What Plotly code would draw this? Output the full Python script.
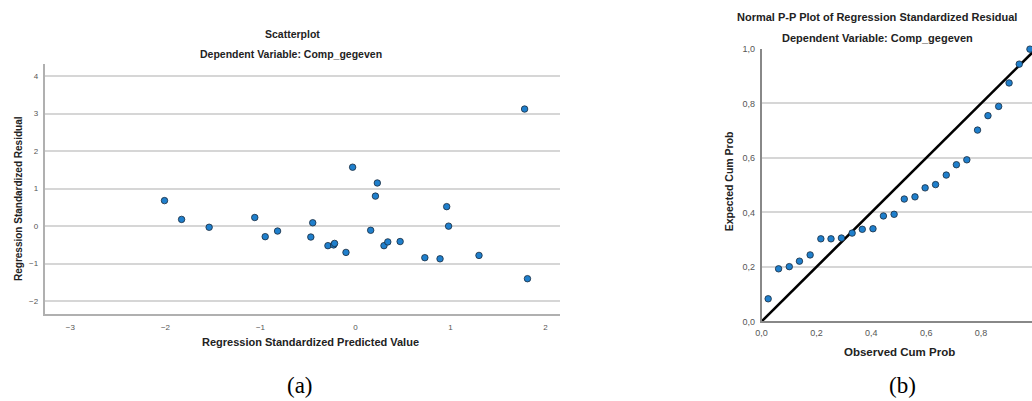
import plotly.graph_objects as go

# Scatterplot: standardized predicted value vs standardized residual
pred_std = [-2.01, -1.83, -1.54, -1.06, -0.95, -0.82, -0.47, -0.45, -0.29, -0.23,
            -0.22, -0.10, -0.03, 0.16, 0.21, 0.23, 0.30, 0.34, 0.47, 0.73,
            0.89, 0.96, 0.98, 1.30, 1.78, 1.81]
resid_std = [0.68, 0.18, -0.03, 0.23, -0.28, -0.13, -0.29, 0.09, -0.52, -0.50,
             -0.46, -0.70, 1.57, -0.11, 0.80, 1.15, -0.52, -0.42, -0.41, -0.84,
             -0.87, 0.52, 0.00, -0.78, 3.12, -1.40]

# Normal P-P plot: observed vs expected cumulative probability
obs_cum = [0.024, 0.062, 0.101, 0.138, 0.177, 0.216, 0.253, 0.291, 0.330, 0.367,
           0.406, 0.444, 0.483, 0.520, 0.559, 0.596, 0.634, 0.673, 0.710, 0.748,
           0.787, 0.825, 0.864, 0.902, 0.939, 0.978]
exp_cum = [0.083, 0.193, 0.201, 0.221, 0.244, 0.303, 0.303, 0.306, 0.324, 0.338,
           0.340, 0.387, 0.393, 0.449, 0.457, 0.490, 0.502, 0.537, 0.575, 0.593,
           0.702, 0.755, 0.789, 0.875, 0.944, 0.999]
ref_line = [0.0, 1.0]

x_ticks_a = [-3, -2, -1, 0, 1, 2]
y_ticks_a = [-2, -1, 0, 1, 2, 3, 4]
ticks_b = [0.0, 0.2, 0.4, 0.6, 0.8, 1.0]

W, H = 1032, 401
FONT = "Liberation Sans, Arial, sans-serif"
MARK_FILL = "#1f7fcc"
MARK_EDGE = "#1b2b3c"
GRID = "#d6d6d6"


def px_x(p):
    return p / W


def px_y(p):
    return 1 - p / H


fig = go.Figure()

fig.add_trace(go.Scatter(
    x=pred_std, y=resid_std, mode="markers", xaxis="x", yaxis="y",
    marker=dict(size=6.5, color=MARK_FILL, line=dict(color=MARK_EDGE, width=0.8)),
    cliponaxis=False, showlegend=False,
))

fig.add_trace(go.Scatter(
    x=ref_line, y=ref_line, mode="lines", xaxis="x2", yaxis="y2",
    line=dict(color="black", width=2.6), showlegend=False,
))
fig.add_trace(go.Scatter(
    x=obs_cum, y=exp_cum, mode="markers", xaxis="x2", yaxis="y2",
    marker=dict(size=6.5, color=MARK_FILL, line=dict(color=MARK_EDGE, width=0.8)),
    cliponaxis=False, showlegend=False,
))

tick_font = dict(family=FONT, size=8, color="#555555")
x2_start = 760
x2_unit = 276

fig.update_layout(
    width=W, height=H,
    margin=dict(l=0, r=0, t=0, b=0),
    paper_bgcolor="white", plot_bgcolor="white",
    separators=",.",
    xaxis=dict(
        domain=[px_x(39), px_x(557)],
        range=[-3.27, 2.15], tickvals=x_ticks_a, showgrid=False, zeroline=False,
        showline=True, linecolor="#b0b0b0", linewidth=2, ticks="",
        tickfont=tick_font, ticklabelstandoff=5,
    ),
    yaxis=dict(
        domain=[px_y(316.5), px_y(60.5)],
        range=[-2.33, 4.32], tickvals=y_ticks_a, showgrid=True, gridcolor=GRID,
        gridwidth=1.5, zeroline=False, showline=True, linecolor="#b0b0b0",
        linewidth=2, ticks="", tickfont=tick_font, ticklabelstandoff=3,
    ),
    xaxis2=dict(
        domain=[px_x(x2_start), 1.0], anchor="y2",
        range=[0, (W - x2_start) / x2_unit], tickvals=ticks_b, tickformat=".1f",
        showgrid=False, zeroline=False, showline=True, linecolor="#888888",
        linewidth=1.5, ticks="", tickfont=dict(family=FONT, size=9, color="#555555"),
        ticklabelstandoff=2,
    ),
    yaxis2=dict(
        domain=[px_y(324.5), px_y(45)], anchor="x2",
        range=[0, 1], tickvals=ticks_b, tickformat=".1f",
        showgrid=True, gridcolor=GRID, gridwidth=1.5, zeroline=False,
        showline=True, linecolor="#888888", linewidth=1.5, ticks="",
        tickfont=dict(family=FONT, size=9, color="#555555"), ticklabelstandoff=3,
    ),
)


def label(text, x, y, size, bold=True, angle=0, family=FONT, color="#222222"):
    fig.add_annotation(
        text=f"<b>{text}</b>" if bold else text,
        x=px_x(x), y=px_y(y), xref="paper", yref="paper",
        xanchor="center", yanchor="middle", showarrow=False, textangle=angle,
        font=dict(family=family, size=size, color=color),
    )


# Left panel titles
label("Scatterplot", 288, 29.5, 10.5)
label("Dependent Variable: Comp_gegeven", 287, 50.5, 10.5)
label("Regression Standardized Predicted Value", 306, 346, 11)
label("Regression Standardized Residual", 12, 198, 10, angle=-90)

# Right panel titles
label("Normal P-P Plot of Regression Standardized Residual", 876, 12, 11)
label("Dependent Variable: Comp_gegeven", 877, 34, 11)
label("Observed Cum Prob", 899, 356, 11.5)
label("Expected Cum Prob", 728, 181, 10.5, angle=-90)

# Panel captions
serif = "Liberation Serif, Times New Roman, serif"
label("(a)", 296, 390, 23, bold=False, family=serif, color="black")
label("(b)", 902, 390, 23, bold=False, family=serif, color="black")

fig.write_html("out.html")
